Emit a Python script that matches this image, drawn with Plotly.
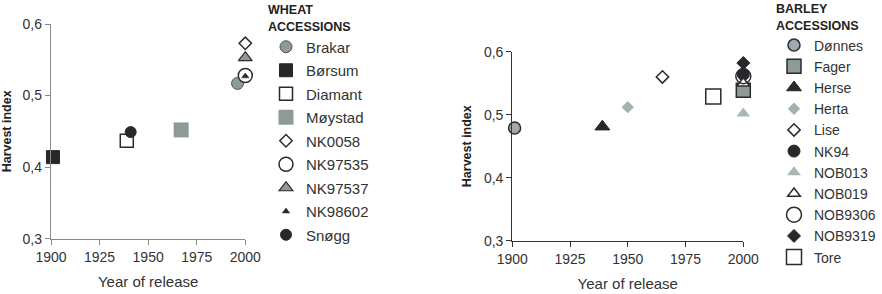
import plotly.graph_objects as go

W, H = 882, 294
FONT = "Liberation Sans, Arial, sans-serif"
DARK = "#2b2b2b"

# ---------------- data ----------------
wheat_names = ["Brakar", "Børsum", "Diamant", "Møystad", "NK0058",
               "NK97535", "NK97537", "NK98602", "Snøgg"]
wheat_years = [1996, 1901, 1939, 1967, 2000, 2000, 2000, 2000, 1941]
wheat_hi = [0.517, 0.414, 0.437, 0.452, 0.573, 0.528, 0.553, 0.527, 0.449]

barley_names = ["Dønnes", "Fager", "Herse", "Herta", "Lise", "NK94",
                "NOB013", "NOB019", "NOB9306", "NOB9319", "Tore"]
barley_years = [1901, 2000, 1939, 1950, 1965, 2000, 2000, 2000, 2000, 2000, 1987]
barley_hi = [0.479, 0.539, 0.481, 0.512, 0.560, 0.564, 0.502, 0.550, 0.561, 0.582, 0.529]

x_ticks = [1900, 1925, 1950, 1975, 2000]
y_ticks = [0.3, 0.4, 0.5, 0.6]
y_ticktext = ["0,3", "0,4", "0,5", "0,6"]

# ---------------- styles ----------------
GREY = "#8c9a98"
LGREY = "#a6b0b0"
wheat_style = [
    dict(symbol="circle", size=12, color=GREY, line=dict(color="#555", width=1)),
    dict(symbol="square", size=13, color="#26282c", line=dict(color="#26282c", width=1)),
    dict(symbol="square", size=13, color="white", line=dict(color=DARK, width=1.5)),
    dict(symbol="square", size=15, color=GREY, line=dict(color=GREY, width=0)),
    dict(symbol="diamond", size=9.5, color="white", line=dict(color=DARK, width=1.5)),
    dict(symbol="circle", size=14, color="white", line=dict(color=DARK, width=1.5)),
    dict(symbol="triangle-up", size=12, color=GREY, line=dict(color=DARK, width=1.2)),
    dict(symbol="triangle-up", size=6.5, color="#26282c", line=dict(color="#26282c", width=0.5)),
    dict(symbol="circle", size=11, color="#26282c", line=dict(color="#26282c", width=1)),
]
barley_style = [
    dict(symbol="circle", size=12, color="#a0a8b0", line=dict(color=DARK, width=1.5)),
    dict(symbol="square", size=14, color=GREY, line=dict(color=DARK, width=1.5)),
    dict(symbol="triangle-up", size=13, color="#26282c", line=dict(color="#26282c", width=1)),
    dict(symbol="diamond", size=9.5, color=LGREY, line=dict(color=LGREY, width=0)),
    dict(symbol="diamond", size=9.5, color="white", line=dict(color=DARK, width=1.5)),
    dict(symbol="circle", size=12, color="#26282c", line=dict(color="#26282c", width=1)),
    dict(symbol="triangle-up", size=12, color="#aab6b6", line=dict(color="#aab6b6", width=0)),
    dict(symbol="triangle-up", size=11, color="white", line=dict(color=DARK, width=1.5)),
    dict(symbol="circle-open", size=15, color=DARK, line=dict(color=DARK, width=1.5)),
    dict(symbol="diamond", size=10, color="#26282c", line=dict(color="#26282c", width=1)),
    dict(symbol="square", size=15, color="white", line=dict(color=DARK, width=1.5)),
]

fig = go.Figure()
for i, n in enumerate(wheat_names):
    fig.add_trace(go.Scatter(
        x=[wheat_years[i]], y=[wheat_hi[i]], mode="markers", name=n,
        marker=wheat_style[i], xaxis="x", yaxis="y",
        legend="legend", legendgroup="w" + str(i), cliponaxis=False))
for i, n in enumerate(barley_names):
    fig.add_trace(go.Scatter(
        x=[barley_years[i]], y=[barley_hi[i]], mode="markers", name=n,
        marker=barley_style[i], xaxis="x2", yaxis="y2",
        legend="legend2", legendgroup="b" + str(i), cliponaxis=False))


def px_x(p):
    return p / W


def px_y(p):
    return 1 - p / H


def xaxis(domain, anchor, color):
    return dict(domain=domain, anchor=anchor, range=[1900, 2000], automargin=False,
                tickvals=x_ticks, ticks="outside", ticklen=5, tickcolor=color,
                showline=True, linecolor=color, linewidth=1.3, showgrid=False,
                zeroline=False, tickfont=dict(size=14, color="#333"),
                title=dict(text="Year of release", font=dict(size=15, color="#333"),
                           standoff=12))


def yaxis(domain, anchor, color):
    return dict(domain=domain, anchor=anchor, range=[0.3, 0.6], automargin=False,
                tickvals=y_ticks, ticktext=y_ticktext, ticks="outside", ticklen=5,
                tickcolor=color, showline=True, linecolor=color, linewidth=1.3,
                showgrid=False, zeroline=False, tickfont=dict(size=14, color="#333"),
                title=dict(text="<b>Harvest index</b>", font=dict(size=12.5, color="#222"),
                           standoff=9))


def legend_cfg(x, y, title, size, gap):
    return dict(x=x, y=y, yanchor="top", xanchor="left", maxheight=1,
                font=dict(size=size, color="#333", family=FONT),
                bgcolor="rgba(0,0,0,0)", tracegroupgap=gap, itemsizing="trace",
                title=dict(text=title, font=dict(size=12.5, color="#222")))


fig.update_layout(
    width=W, height=H, margin=dict(l=0, r=0, t=0, b=0, autoexpand=False),
    paper_bgcolor="white", plot_bgcolor="white",
    font=dict(family=FONT, color="#333"),
    xaxis=xaxis([px_x(51), px_x(245.3)], "y", "#8a8a8a"),
    yaxis=yaxis([px_y(238.7), px_y(24)], "x", "#8a8a8a"),
    xaxis2=xaxis([px_x(512.3), px_x(743.3)], "y2", "#333"),
    yaxis2=yaxis([px_y(240.7), px_y(51.7)], "x2", "#333"),
    legend=legend_cfg(px_x(266), 1 + 2 / H, "<b>WHEAT<br>ACCESSIONS</b>", 15, 1),
    legend2=legend_cfg(px_x(774), 1 + 3 / H, "<b>BARLEY<br>ACCESSIONS</b>", 14, 0),
)

fig.write_html("out.html")
